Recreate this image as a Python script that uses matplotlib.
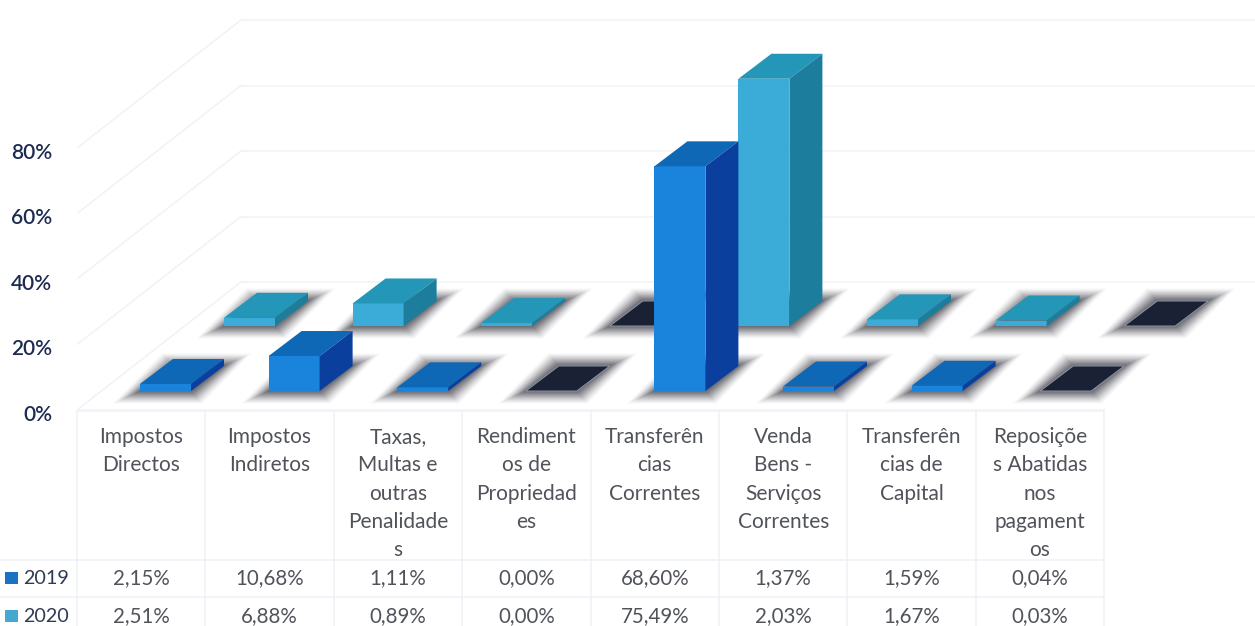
import matplotlib
matplotlib.use("Agg")
import matplotlib.pyplot as plt
from matplotlib.patches import Polygon, Rectangle
from matplotlib.transforms import ScaledTranslation

plt.rcParams['font.family'] = ['Lato', 'DejaVu Sans']

categorias = [
    "Impostos\nDirectos",
    "Impostos\nIndiretos",
    "Taxas,\nMultas e\noutras\nPenalidade\ns",
    "Rendiment\nos de\nPropriedad\nes",
    "Transferên\ncias\nCorrentes",
    "Venda\nBens -\nServiços\nCorrentes",
    "Transferên\ncias de\nCapital",
    "Reposiçõe\ns Abatidas\nnos\npagament\nos",
]
anos = ["2019", "2020"]
valores_2019 = [2.15, 10.68, 1.11, 0.00, 68.60, 1.37, 1.59, 0.04]
valores_2020 = [2.51, 6.88, 0.89, 0.00, 75.49, 2.03, 1.67, 0.03]
textos_2019 = ["2,15%", "10,68%", "1,11%", "0,00%", "68,60%", "1,37%", "1,59%", "0,04%"]
textos_2020 = ["2,51%", "6,88%", "0,89%", "0,00%", "75,49%", "2,03%", "1,67%", "0,03%"]
ticks = [0, 20, 40, 60, 80]
tick_labels = ["0%", "20%", "40%", "60%", "80%"]

W, H = 1255, 626
COL = 128.6    # px por categoria
ESC = 3.275    # px por ponto percentual
X0 = 77        # esquerda da tabela
Y0 = 410       # y do 0%

fig = plt.figure(figsize=(W / 100, H / 100), dpi=100)
ax = fig.add_axes([X0 / W, 1 - Y0 / H, (W - X0) / W, Y0 / H])
ax.set_xlim(0, (W - X0) / COL)
ax.set_ylim(0, Y0 / ESC)
ax.set_xticks([])
ax.set_yticks(ticks)
ax.set_yticklabels(tick_labels, fontsize=15, color="#1d2b52", fontweight="semibold")
ax.tick_params(axis="y", length=0, pad=18)
for lab in ax.get_yticklabels():
    lab.set_transform(lab.get_transform() + ScaledTranslation(0, -2 / 72, fig.dpi_scale_trans))
for s in ax.spines.values():
    s.set_visible(False)

# paredes do grafico
grid = "#f0f2f8"
dx_fundo = 164 / COL
dy_fundo = 128 / ESC
for t in ticks:
    ax.plot([0, dx_fundo], [t, t + dy_fundo], color=grid, lw=1.1, zorder=1)
    ax.plot([dx_fundo, (W - X0) / COL], [t + dy_fundo, t + dy_fundo], color=grid, lw=1.1, zorder=1)
ax.plot([0, (W - X0 - 150) / COL], [0, 0], color=grid, lw=1.1, zorder=1)


def sombra(x, y, largura, prof_x, prof_y):
    # sombra esfumada: camadas cada vez mais escuras para dentro
    n = 30
    for k in range(n, 0, -1):
        f = k / n
        ex = 28 * f / COL
        ey = 13 * f / ESC
        pts = [(x - ex, y - ey), (x + largura + ex * 0.4, y - ey),
               (x + largura + prof_x + ex, y + prof_y + ey), (x + prof_x - ex * 0.4, y + prof_y + ey)]
        alfa = 0.008 + 0.055 * (1 - f)
        ax.add_patch(Polygon(pts, closed=True, fc="#2b2d36", ec="none", alpha=alfa, zorder=2))


def barra(x, y, v, largura, prof_x, prof_y, cores, z):
    frente, topo, lado = cores
    if v < 0.1:
        pts = [(x, y), (x + largura, y), (x + largura + prof_x, y + prof_y), (x + prof_x, y + prof_y)]
        ax.add_patch(Polygon(pts, closed=True, fc="#1a2134", ec="#8d94a3", lw=0.7, zorder=z))
        return
    ax.add_patch(Rectangle((x, y), largura, v, fc=frente, ec="none", zorder=z))
    ax.add_patch(Polygon([(x, y + v), (x + largura, y + v), (x + largura + prof_x, y + v + prof_y),
                          (x + prof_x, y + v + prof_y)], closed=True, fc=topo, ec="none", zorder=z))
    ax.add_patch(Polygon([(x + largura, y), (x + largura + prof_x, y + prof_y),
                          (x + largura + prof_x, y + v + prof_y), (x + largura, y + v)],
                         closed=True, fc=lado, ec="none", zorder=z))


largura = 51 / COL
prof_x = 33 / COL
prof_y = 25 / ESC
cores_2019 = ("#1a84dc", "#0f68b6", "#0b3f9e")
cores_2020 = ("#3babd8", "#2496b8", "#1c7d9c")
series = [
    (valores_2020, 224, 326, cores_2020),
    (valores_2019, 140, 391, cores_2019),
]
for vals, x_px, y_px, cores in series:
    for i, v in enumerate(vals):
        sombra((x_px - X0) / COL + i, (Y0 - y_px) / ESC, largura, prof_x, prof_y)
z = 3
for vals, x_px, y_px, cores in series:
    for i, v in enumerate(vals):
        barra((x_px - X0) / COL + i, (Y0 - y_px) / ESC, v, largura, prof_x, prof_y, cores, z)
        z += 1

# tabela de dados
tab = fig.add_axes([0, 0, 1, 1 - Y0 / H])
tab.set_xlim(0, W)
tab.set_ylim(H, Y0)
tab.axis("off")
linha = "#eef1f7"
COL_T = 128.4
for i in range(len(categorias) + 1):
    tab.plot([X0 + i * COL_T, X0 + i * COL_T], [411, H], color=linha, lw=1.1)
for y in [411, 560, 597]:
    tab.plot([X0, X0 + 8 * COL_T], [y, y], color=linha, lw=1.1)
tab.plot([0, X0], [560, 560], color=linha, lw=1.1)
tab.plot([0, X0], [597, 597], color=linha, lw=1.1)

cor_txt = "#50535a"
for i, cat in enumerate(categorias):
    cx = X0 + (i + 0.5) * COL_T
    for j, parte in enumerate(cat.split("\n")):
        tab.text(cx, 437 + j * 28.3, parte, ha="center", va="center", fontsize=15, color=cor_txt)
    tab.text(cx, 578, textos_2019[i], ha="center", va="center", fontsize=14.8, color=cor_txt)
    tab.text(cx, 616, textos_2020[i], ha="center", va="center", fontsize=14.8, color=cor_txt)

for ano, y, cor in zip(anos, [578, 616], ["#1a72c0", "#45a8d0"]):
    tab.add_patch(Rectangle((5, y - 6), 13, 12, fc=cor, ec="none"))
    tab.text(23, y, ano, ha="left", va="center", fontsize=14.2, color="#2f3a55")

fig.savefig("out.png", dpi=100)
